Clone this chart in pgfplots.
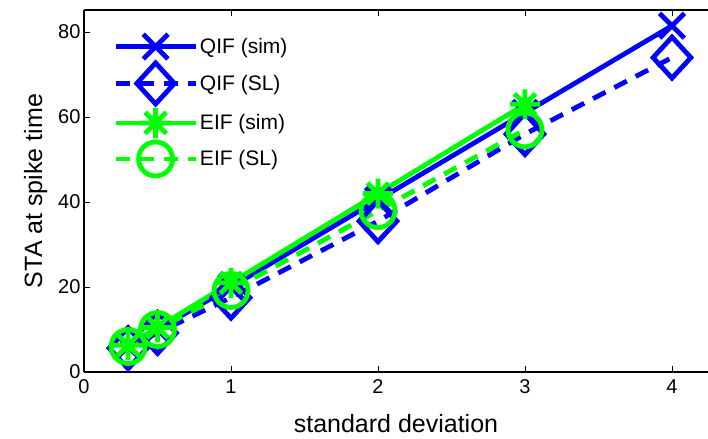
\documentclass[border=0pt]{standalone}
\usepackage{fontspec}
\setmainfont{Liberation Sans}
\usepackage{pgfplots}
\pgfplotsset{compat=1.18}

% eight-spoke asterisk (plus and cross together)
\pgfdeclareplotmark{star8}{%
  \pgfpathmoveto{\pgfqpoint{0pt}{\pgfplotmarksize}}%
  \pgfpathlineto{\pgfqpoint{0pt}{-\pgfplotmarksize}}%
  \pgfpathmoveto{\pgfqpoint{\pgfplotmarksize}{0pt}}%
  \pgfpathlineto{\pgfqpoint{-\pgfplotmarksize}{0pt}}%
  \pgfpathmoveto{\pgfqpoint{.7071\pgfplotmarksize}{.7071\pgfplotmarksize}}%
  \pgfpathlineto{\pgfqpoint{-.7071\pgfplotmarksize}{-.7071\pgfplotmarksize}}%
  \pgfpathmoveto{\pgfqpoint{.7071\pgfplotmarksize}{-.7071\pgfplotmarksize}}%
  \pgfpathlineto{\pgfqpoint{-.7071\pgfplotmarksize}{.7071\pgfplotmarksize}}%
  \pgfusepathqstroke}

% diamond drawn as a square turned by 45 degrees
\pgfdeclareplotmark{mdiamond}{%
  \pgfpathmoveto{\pgfqpoint{0pt}{1.414\pgfplotmarksize}}%
  \pgfpathlineto{\pgfqpoint{1.3\pgfplotmarksize}{0pt}}%
  \pgfpathlineto{\pgfqpoint{0pt}{-1.414\pgfplotmarksize}}%
  \pgfpathlineto{\pgfqpoint{-1.3\pgfplotmarksize}{0pt}}%
  \pgfpathclose
  \pgfusepathqstroke}

\definecolor{mblue}{rgb}{0,0,1}
\definecolor{mgreen}{rgb}{0,1,0}

\pgfplotstableread{
x    qsim  qsl   esim  esl
0.3  6.0   5.6   6.3   6.0
0.5  10.0  9.2   10.5  10.0
1    20.0  17.5  21.0  19.2
2    40.5  35.5  42.0  38.0
3    61.0  56.0  63.0  57.0
4    81.5  74.0  nan   nan
}\stdata

\begin{document}
\begin{tikzpicture}
\useasboundingbox (0,0) rectangle (708bp,439bp);
\begin{axis}[
  at={(84bp,67bp)}, anchor=south west,
  scale only axis,
  width=624bp, height=362bp,
  xmin=0, xmax=4.245,
  ymin=0, ymax=85.2,
  axis x line*=box,
  axis y line*=left,
  axis line style={black, line width=1.1bp},
  tick align=inside,
  major tick length=6bp,
  tick style={black, line width=0.9bp},
  xtick={0,1,2,3,4},
  ytick={0,20,40,60,80},
  /pgf/number format/assume math mode=true,
  ticklabel style={font=\fontsize{20bp}{24bp}\selectfont},
  xticklabel style={yshift=-4bp},
  xlabel={standard deviation},
  ylabel={STA at spike time},
  label style={font=\fontsize{25bp}{30bp}\selectfont},
  xlabel style={yshift=-14bp},
  ylabel style={yshift=4bp},
  unbounded coords=jump,
  legend style={
    at={(29bp,338bp)}, anchor=north west,
    draw=none, fill=none,
    font=\fontsize{21bp}{25bp}\selectfont,
    row sep=4bp,
    inner sep=0pt,
  },
  legend cell align=left,
  legend image code/.code={%
    \draw[mark repeat=2,mark phase=2] plot coordinates {(0bp,0bp) (40bp,0bp) (80bp,0bp)};%
  },
]
\addplot[mblue, line width=4.8bp, mark=x, mark size=17.5bp, mark options={solid, line width=4.8bp}] table[x=x,y=qsim] {\stdata};
\addlegendentry{QIF (sim)}
\addplot[mblue, line width=4.8bp, dash pattern=on 14bp off 10bp, mark=mdiamond, mark size=14.5bp, mark options={solid, line width=4.8bp}] table[x=x,y=qsl] {\stdata};
\addlegendentry{QIF (SL)}
\addplot[mgreen, line width=4.8bp, mark=star8, mark size=15bp, mark options={solid, line width=4.8bp}] table[x=x,y=esim] {\stdata};
\addlegendentry{EIF (sim)}
\addplot[mgreen, line width=4.8bp, dash pattern=on 14bp off 10bp, mark=o, mark size=17bp, mark options={solid, line width=4.8bp}] table[x=x,y=esl] {\stdata};
\addlegendentry{EIF (SL)}
\end{axis}
\end{tikzpicture}
\end{document}
